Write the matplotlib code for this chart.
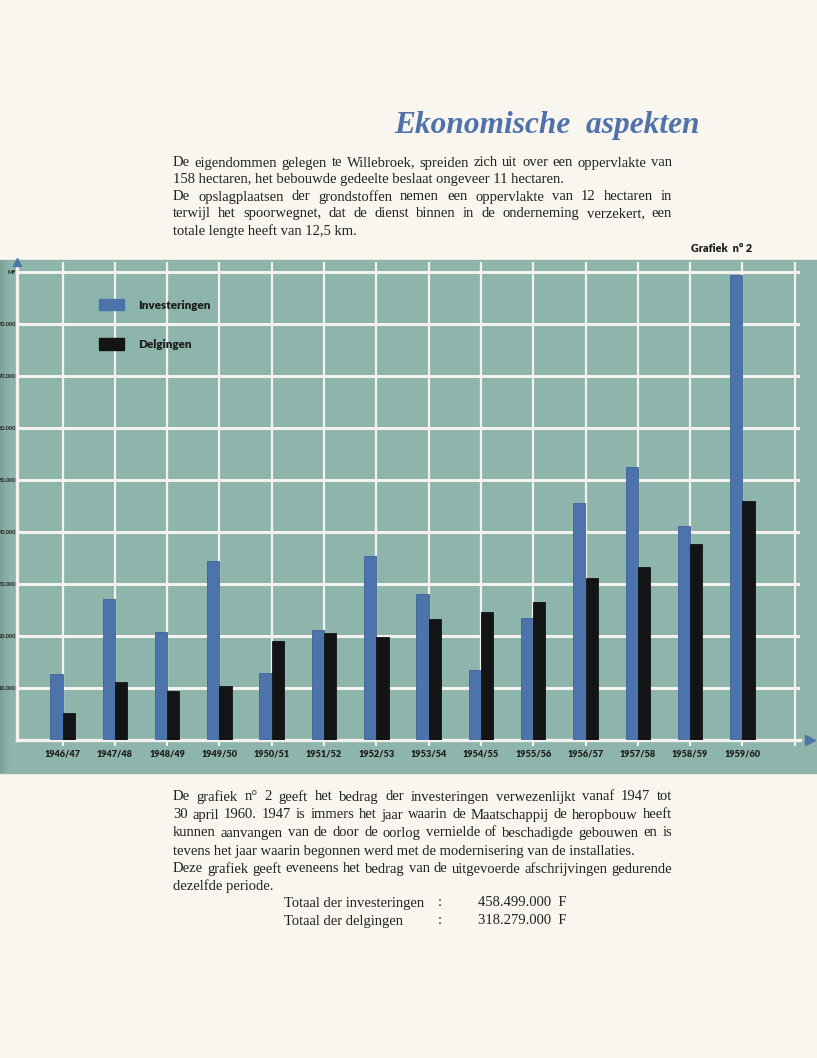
import matplotlib.pyplot as plt
from matplotlib.patches import Rectangle, Patch
import numpy as np

W, H = 817, 1058
paper = '#f8f6ee'
teal = '#8eb5ac'
blue = '#4c73aa'
black = '#121416'
grid = '#f4f2ec'
ink = '#1c1c1c'

seasons = ['1946/47', '1947/48', '1948/49', '1949/50', '1950/51', '1951/52', '1952/53',
           '1953/54', '1954/55', '1955/56', '1956/57', '1957/58', '1958/59', '1959/60']
# millions of francs (MF)
investeringen = [12.6, 27.2, 20.8, 34.5, 12.8, 21.1, 35.4, 28.0, 13.4, 23.5, 45.6, 52.5, 41.1, 89.5]
delgingen = [5.1, 11.1, 9.5, 10.3, 19.0, 20.5, 19.8, 23.3, 24.7, 26.6, 31.1, 33.2, 37.6, 45.9]
y_ticks = [10, 20, 30, 40, 50, 60, 70, 80, 90]
y_labels = ['10.000', '20.000', '30.000', '40.000', '50.000', '60.000', '70.000', '80.000', 'MF']

fig = plt.figure(figsize=(W / 100, H / 100), dpi=100, facecolor=paper)


def fx(x):
    return x / W


def fy(y):
    return 1 - y / H


# teal panel behind the chart
fig.patches.append(Rectangle((0, fy(773)), 1, (773 - 260) / H, transform=fig.transFigure,
                             color=teal, zorder=-5))
# darker shading at the binding edge
for i in range(10):
    fig.patches.append(Rectangle((fx(i), fy(773)), fx(1), (773 - 260) / H,
                                 transform=fig.transFigure, color='#5f7d76',
                                 alpha=0.35 * (1 - i / 10), lw=0, zorder=-4))

ax = fig.add_axes([fx(17), fy(740), fx(800) - fx(17), (740 - 262) / H])
ax.set_facecolor('none')
x = np.arange(len(seasons))
bw = 0.235
ax.bar(x - bw / 2, investeringen, bw, color=blue, edgecolor='#3f6398', lw=0.6,
       label='Investeringen', zorder=3)
ax.bar(x + bw / 2, delgingen, bw, color=black, edgecolor=black, lw=0.6,
       label='Delgingen', zorder=3)

ax.set_xlim((17 - 62.5) / 52.3, (800 - 62.5) / 52.3)
ax.set_ylim(0, 478 / 5.2)
ax.set_xticks(np.arange(len(seasons) + 1))
ax.set_xticklabels(seasons + [''], fontsize=6.6, fontweight='heavy', family='Lato', color=ink)
ax.set_yticks(y_ticks)
ax.set_yticklabels(y_labels, fontsize=4.0, fontweight='bold', family='Lato', color=ink)
ax.yaxis.grid(True, color=grid, lw=2.2)
ax.xaxis.grid(True, color=grid, lw=1.6)
ax.set_axisbelow(True)
ax.tick_params(axis='x', length=4, width=1.5, color=grid, pad=3)
ax.tick_params(axis='y', length=0, pad=0.6)
for s in ['top', 'right']:
    ax.spines[s].set_visible(False)
for s in ['left', 'bottom']:
    ax.spines[s].set_color(grid)
    ax.spines[s].set_linewidth(2.4)

# axis arrows
ax.plot([0], [1.0], marker='^', ms=6, color=blue, transform=ax.transAxes, clip_on=False, zorder=5)
ax.plot([1.013], [0], marker='>', ms=7, color=blue, transform=ax.transAxes, clip_on=False, zorder=5)

leg = ax.legend(handles=[Patch(facecolor=blue, edgecolor=blue, label='Investeringen'),
                         Patch(facecolor=black, edgecolor=black, label='Delgingen')],
                loc='upper left', bbox_to_anchor=((99 - 17) / 783, (740 - 299) / 478),
                frameon=False, borderpad=0, borderaxespad=0, handlelength=2.1,
                handleheight=1.1, handletextpad=1.25, labelspacing=2.35,
                prop={'family': 'Lato', 'weight': 'heavy', 'size': 8.5})
for t in leg.get_texts():
    t.set_color(ink)

# page texts
renderer = fig.canvas.get_renderer()
serif = dict(family='Liberation Serif', fontsize=10.5, color='#222222', va='center')


def line(text, x0, y, x1=None):
    if x1 is None:
        fig.text(fx(x0), fy(y), text, **serif)
        return
    words = text.split()
    widths = []
    for w in words:
        t = fig.text(0, 0, w, **serif)
        widths.append(t.get_window_extent(renderer).width)
        t.remove()
    gap = (x1 - x0 - sum(widths)) / (len(words) - 1)
    xp = x0
    for w, wd in zip(words, widths):
        fig.text(fx(xp), fy(y), w, **serif)
        xp += wd + gap


fig.text(fx(700), fy(125), 'Ekonomische  aspekten', family='Liberation Serif',
         style='italic', weight='bold', fontsize=22.6, color='#5072ab', ha='right', va='center')

line('De eigendommen gelegen te Willebroek, spreiden zich uit over een oppervlakte van', 173, 163, 672)
line('158 hectaren, het bebouwde gedeelte beslaat ongeveer 11 hectaren.', 173, 180)
line('De opslagplaatsen der grondstoffen nemen een oppervlakte van 12 hectaren in', 173, 197, 672)
line('terwijl het spoorwegnet, dat de dienst binnen in de onderneming verzekert, een', 173, 214, 672)
line('totale lengte heeft van 12,5 km.', 173, 231)

fig.text(fx(752), fy(249), 'Grafiek  n° 2', family='Lato', weight='heavy', fontsize=7.8,
         color=ink, ha='right', va='center')

line('De grafiek n° 2 geeft het bedrag der investeringen verwezenlijkt vanaf 1947 tot', 173, 797, 672)
line('30 april 1960. 1947 is immers het jaar waarin de Maatschappij de heropbouw heeft', 173, 815, 672)
line('kunnen aanvangen van de door de oorlog vernielde of beschadigde gebouwen en is', 173, 833, 672)
line('tevens het jaar waarin begonnen werd met de modernisering van de installaties.', 173, 851)
line('Deze grafiek geeft eveneens het bedrag van de uitgevoerde afschrijvingen gedurende', 173, 869, 672)
line('dezelfde periode.', 173, 886)

line('Totaal der investeringen', 284, 903)
line(':', 438, 903)
line('458.499.000  F', 478, 903)
line('Totaal der delgingen', 284, 921)
line(':', 438, 921)
line('318.279.000  F', 478, 921)

fig.savefig('out.png', dpi=100, facecolor=paper)
